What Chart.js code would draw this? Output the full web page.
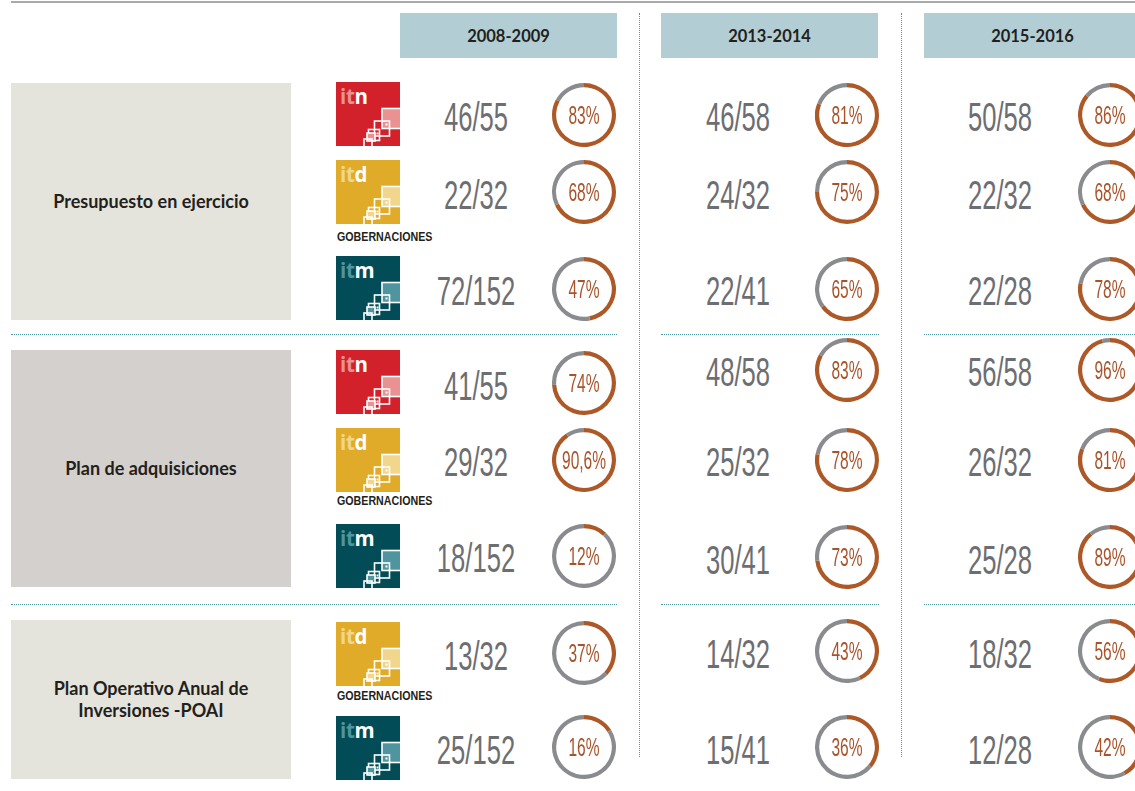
<!DOCTYPE html>
<html>
<head>
<meta charset="utf-8">
<script src="https://cdn.jsdelivr.net/npm/chart.js@4.4.0/dist/chart.umd.min.js"></script>
<style>
  html, body { margin:0; padding:0; background:#fff; }
  body { width:1135px; height:791px; position:relative; overflow:hidden; font-family:Lato, "Open Sans", sans-serif; }
  .abs { position:absolute; }
  .topline { left:11px; top:1px; width:1124px; height:2px; background:#a7a9ac; }
  .hdr { top:13px; height:45px; width:217px; background:#b2ced4; color:#231f20; font-weight:bold; font-size:16.5px; display:flex; align-items:center; justify-content:center; }
  .vdot { top:13px; height:744px; width:0; border-left:1px dotted #4a98a1; }
  .hdot { height:0; border-top:1px dotted #4a98a1; }
  .cat { left:11px; width:280px; color:#231f20; font-weight:bold; font-size:18px; line-height:21.5px; display:flex; align-items:center; justify-content:center; text-align:center; }
  .frac { font-family:"Liberation Sans", sans-serif; font-size:40px; line-height:40px; color:#6d6e71; white-space:nowrap; transform:translate(-50%,-50%) scaleX(0.64); }
  .gob { left:337px; font-family:"Liberation Sans", sans-serif; font-weight:bold; font-size:13px; line-height:14px; color:#231f20; white-space:nowrap; transform-origin:0 50%; transform:translateY(-50%) scaleX(0.82); }
  canvas.ring { position:absolute; width:64px; height:64px; }
</style>
</head>
<body>
<script>
// ---- data ----
const periods = ['2008-2009', '2013-2014', '2015-2016'];
const categories = [['Presupuesto en ejercicio'], ['Plan de adquisiciones'], ['Plan Operativo Anual de', 'Inversiones -POAI']];
const entities = ['itn', 'itd', 'itm', 'itn', 'itd', 'itm', 'itd', 'itm'];
const entityNote = 'GOBERNACIONES';
const fractions0809 = ['46/55', '22/32', '72/152', '41/55', '29/32', '18/152', '13/32', '25/152'];
const pct0809 = [83, 68, 47, 74, 90.6, 12, 37, 16];
const fractions1314 = ['46/58', '24/32', '22/41', '48/58', '25/32', '30/41', '14/32', '15/41'];
const pct1314 = [81, 75, 65, 83, 78, 73, 43, 36];
const fractions1516 = ['50/58', '22/32', '22/28', '56/58', '26/32', '25/28', '18/32', '12/28'];
const pct1516 = [86, 68, 78, 96, 81, 89, 56, 42];

// ---- layout ----
const fracCols = [fractions0809, fractions1314, fractions1516];
const pctCols = [pct0809, pct1314, pct1516];
const hdrX = [400, 661, 924];
const fracX = [475.5, 738, 1000];
const ringX = [584, 847, 1110];
const ringY = [
  [114.5, 192, 288.5, 383, 459.5, 555.5, 653, 747],
  [114.5, 192, 288.5, 369.5, 459.5, 557, 651, 747],
  [114.5, 192, 288.5, 369.5, 459.5, 557, 651, 747]
];
const logoTop = [82, 160, 256, 350, 428, 524, 622, 716];
const gobY = {1: 237, 4: 501, 6: 696};
const catBoxes = [[83, 320, '#e5e4dc'], [350, 587, '#d4d0cd'], [620, 779, '#e5e4dc']];
const hdotY = [334, 604];
const hdotSeg = [[11, 617], [661, 879], [924, 1135]];
const logoColors = {
  itn: ['#d2212b', '#ea9192'],
  itd: ['#e1ab2a', '#f1d68c'],
  itm: ['#014c56', '#4f959f']
};
const ORANGE = '#ad5827', GREY = '#8a8b8e', PCTTXT = '#a9532a';

function el(cls, style, html) {
  const d = document.createElement('div');
  d.className = 'abs ' + cls;
  Object.assign(d.style, style);
  if (html !== undefined) d.innerHTML = html;
  document.body.appendChild(d);
  return d;
}

el('topline', {});
periods.forEach((p, i) => el('hdr', {left: hdrX[i] + 'px'}, p));
[639, 901].forEach(x => el('vdot', {left: x + 'px'}));
hdotY.forEach(y => hdotSeg.forEach(s => el('hdot', {top: y + 'px', left: s[0] + 'px', width: (s[1] - s[0]) + 'px'})));
categories.forEach((lines, i) => {
  const b = catBoxes[i];
  el('cat', {top: b[0] + 'px', height: (b[1] - b[0]) + 'px', background: b[2]}, lines.join('<br>'));
});

function logoSVG(name) {
  const [bg, lt] = logoColors[name];
  const last = name.slice(2);
  return `<svg width="64" height="64" viewBox="0 0 64 64" xmlns="http://www.w3.org/2000/svg">
    <rect width="64" height="64" fill="${bg}"/>
    <text x="4" y="22" font-family="Open Sans, Lato, sans-serif" font-weight="bold" font-size="20.5" letter-spacing="-0.3"><tspan fill="${lt}">it</tspan><tspan fill="#fff">${last}</tspan></text>
    <g stroke="#fff" stroke-width="1.6">
      <rect x="46" y="26.5" width="20" height="20" fill="${lt}"/>
      <rect x="38.5" y="39" width="15" height="15" fill="none"/>
      <rect x="32.5" y="47.5" width="11" height="11" fill="none"/>
      <rect x="31" y="51" width="8" height="8" fill="${lt}"/>
      <rect x="28" y="57" width="8" height="8" fill="none"/>
    </g>
    <rect x="49.5" y="41.5" width="2" height="2" fill="#fff"/>
    <rect x="40.5" y="50.5" width="2" height="2" fill="#fff"/>
  </svg>`;
}
entities.forEach((name, r) => {
  el('logo', {left: '336px', top: logoTop[r] + 'px', width: '64px', height: '64px'}, logoSVG(name));
  if (gobY[r] !== undefined) el('gob', {top: gobY[r] + 'px'}, entityNote);
});

const centerText = {
  id: 'centerText',
  afterDraw(chart, args, opts) {
    const ctx = chart.ctx;
    const a = chart.getDatasetMeta(0).data[0];
    ctx.save();
    ctx.translate(a.x, a.y + 2);
    ctx.scale(0.62, 1);
    ctx.font = '25px "Liberation Sans", sans-serif';
    ctx.fillStyle = PCTTXT;
    ctx.textAlign = 'center';
    ctx.textBaseline = 'middle';
    ctx.fillText(opts.text, 0, 0);
    ctx.restore();
  }
};

fracCols.forEach((fr, c) => {
  fr.forEach((f, r) => {
    el('frac', {left: fracX[c] + 'px', top: (ringY[c][r] + 2.5) + 'px'}, f);
    const p = pctCols[c][r];
    const cv = document.createElement('canvas');
    cv.className = 'ring';
    cv.width = 64; cv.height = 64;
    cv.style.left = (ringX[c] - 32) + 'px';
    cv.style.top = (ringY[c][r] - 32) + 'px';
    document.body.appendChild(cv);
    new Chart(cv, {
      type: 'doughnut',
      data: { labels: ['sí', 'no'], datasets: [{ data: [p, 100 - p], backgroundColor: [ORANGE, GREY], borderWidth: 0 }] },
      options: {
        responsive: false, animation: false, events: [],
        cutout: '87%',
        layout: { padding: 0 },
        plugins: { legend: { display: false }, tooltip: { enabled: false },
          centerText: { text: String(p).replace('.', ',') + '%' } }
      },
      plugins: [centerText]
    });
  });
});
</script>
</body>
</html>
